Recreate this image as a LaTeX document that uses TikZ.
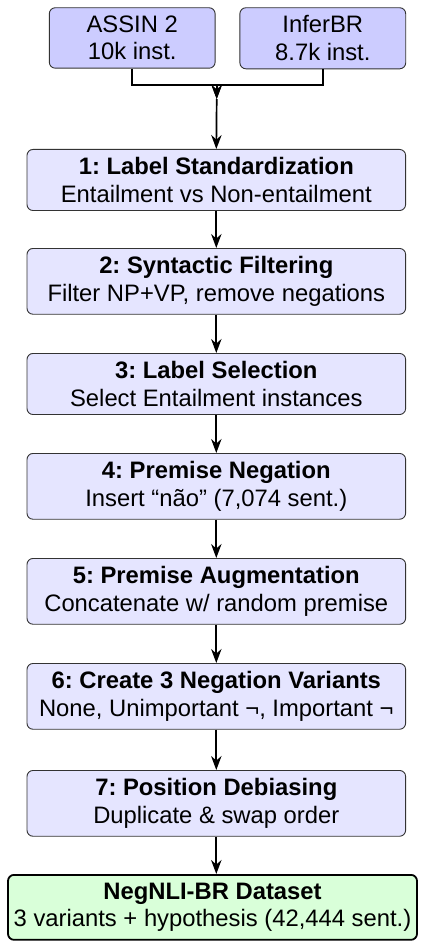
\documentclass[tikz,border=0pt]{standalone}
\usepackage{fontspec}
\setmainfont{Liberation Sans}
\usetikzlibrary{arrows.meta}
\frenchspacing
\begin{document}
\begin{tikzpicture}[x=0.5pt,y=-0.5pt,
  box/.style={draw=black!80, rounded corners=3pt, align=center,
    font=\fontsize{11.9}{13.8}\selectfont, inner xsep=2pt, inner ysep=4pt,
    anchor=north, line width=0.45pt},
  src/.style={box, fill=blue!20, minimum width=82.9pt},
  stepbox/.style={box, fill=blue!10, minimum width=189.3pt},
  final/.style={box, fill=green!15, draw=black, line width=0.9pt, minimum width=204.5pt},
  arr/.style={-{Stealth[length=7pt,width=5.2pt]}, line width=0.85pt}]
\useasboundingbox (0,0) rectangle (422,941);

% source corpora
\node[src] (assin) at (132.2,7.3) {ASSIN 2\\10k inst.};
\node[src] (infer) at (322.8,7.3) {InferBR\\8.7k inst.};

% pipeline steps
\node[stepbox] (s1) at (216.3,149) {\textbf{1: Label Standardization}\\Entailment vs Non-entailment};
\node[stepbox] (s2) at (216.3,248) {\textbf{2: Syntactic Filtering}\\Filter NP+VP, remove negations};
\node[stepbox] (s3) at (216.3,353) {\textbf{3: Label Selection}\\Select Entailment instances};
\node[stepbox] (s4) at (216.3,453) {\textbf{4: Premise Negation}\\Insert “não” (7,074 sent.)};
\node[stepbox] (s5) at (216.3,558) {\textbf{5: Premise Augmentation}\\Concatenate w/ random premise};
\node[stepbox] (s6) at (216.3,663) {\textbf{6: Create 3 Negation Variants}\\None, Unimportant ¬, Important ¬};
\node[stepbox] (s7) at (216.3,770) {\textbf{7: Position Debiasing}\\Duplicate \& swap order};
\node[final] (out) at (212.5,874) {\textbf{NegNLI-BR Dataset}\\3 variants + hypothesis (42,444 sent.)};

% merge of the two sources
\coordinate (bar) at (216.7,85);
\coordinate (join) at (216.7,99);
\draw[arr] (assin.south) -- (assin.south |- bar) -| (join);
\draw[arr] (infer.south) -- (infer.south |- bar) -| (join);
\draw[arr] (join) -- (s1.north);

% step connectors
\draw[arr] (s1) -- (s2);
\draw[arr] (s2) -- (s3);
\draw[arr] (s3) -- (s4);
\draw[arr] (s4) -- (s5);
\draw[arr] (s5) -- (s6);
\draw[arr] (s6) -- (s7);
\draw[arr] (s7.south) -- (s7.south |- out.north);
\end{tikzpicture}
\end{document}
